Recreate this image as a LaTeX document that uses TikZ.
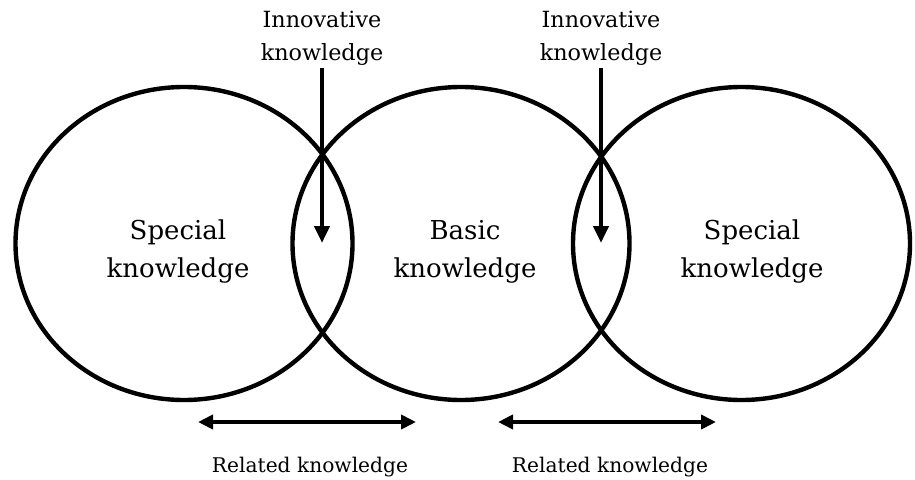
\documentclass[tikz,border=0pt]{standalone}
\usepackage{fontspec}
\setmainfont{DejaVu Serif}
\usetikzlibrary{arrows.meta,shapes.geometric}
\begin{document}
\begin{tikzpicture}[x=1pt,y=-1pt,
  ring/.style={draw=black, line width=4.4pt, ellipse, inner sep=0pt,
    minimum width=337pt, minimum height=313pt},
  mainlabel/.style={align=center, inner sep=0pt,
    font=\fontsize{26}{38}\selectfont},
  toplabel/.style={align=center, inner sep=0pt, outer sep=3pt,
    font=\fontsize{22.3}{33}\selectfont},
  botlabel/.style={inner sep=0pt, anchor=base,
    font=\fontsize{20.2}{24}\selectfont},
  downarrow/.style={line width=4.5pt, -{Triangle[length=17pt,width=15pt]}},
  bothways/.style={line width=4pt,
    {Triangle[length=15pt,width=14pt]}-{Triangle[length=15pt,width=14pt]}}
]
\useasboundingbox (0,0) rectangle (915,479);

% three overlapping knowledge areas
\node[ring] (left)  at (184,243.5)   {};
\node[ring] (mid)   at (461,243.5)   {};
\node[ring] (right) at (741.5,243.5) {};

\node[mainlabel] (lefttext)  at (178,252) {Special\\knowledge};
\node[mainlabel] (midtext)   at (465,252) {Basic\\knowledge};
\node[mainlabel] (righttext) at (752,252) {Special\\knowledge};

% innovative knowledge entering the overlaps
\node[toplabel] (innovA) at (322,38) {Innovative\\knowledge};
\node[toplabel] (innovB) at (601,38) {Innovative\\knowledge};
\coordinate (tipA) at (322,243);
\coordinate (tipB) at (601,243);
\draw[downarrow] (innovA.south) -- (tipA);
\draw[downarrow] (innovB.south) -- (tipB);

% related knowledge spans
\coordinate (relAl) at (198,422);
\coordinate (relAr) at (416,422);
\coordinate (relBl) at (498,422);
\coordinate (relBr) at (716,422);
\draw[bothways] (relAl) -- (relAr);
\draw[bothways] (relBl) -- (relBr);
\node[botlabel] (relA) at (310,472) {Related knowledge};
\node[botlabel] (relB) at (610,472) {Related knowledge};
\end{tikzpicture}
\end{document}
